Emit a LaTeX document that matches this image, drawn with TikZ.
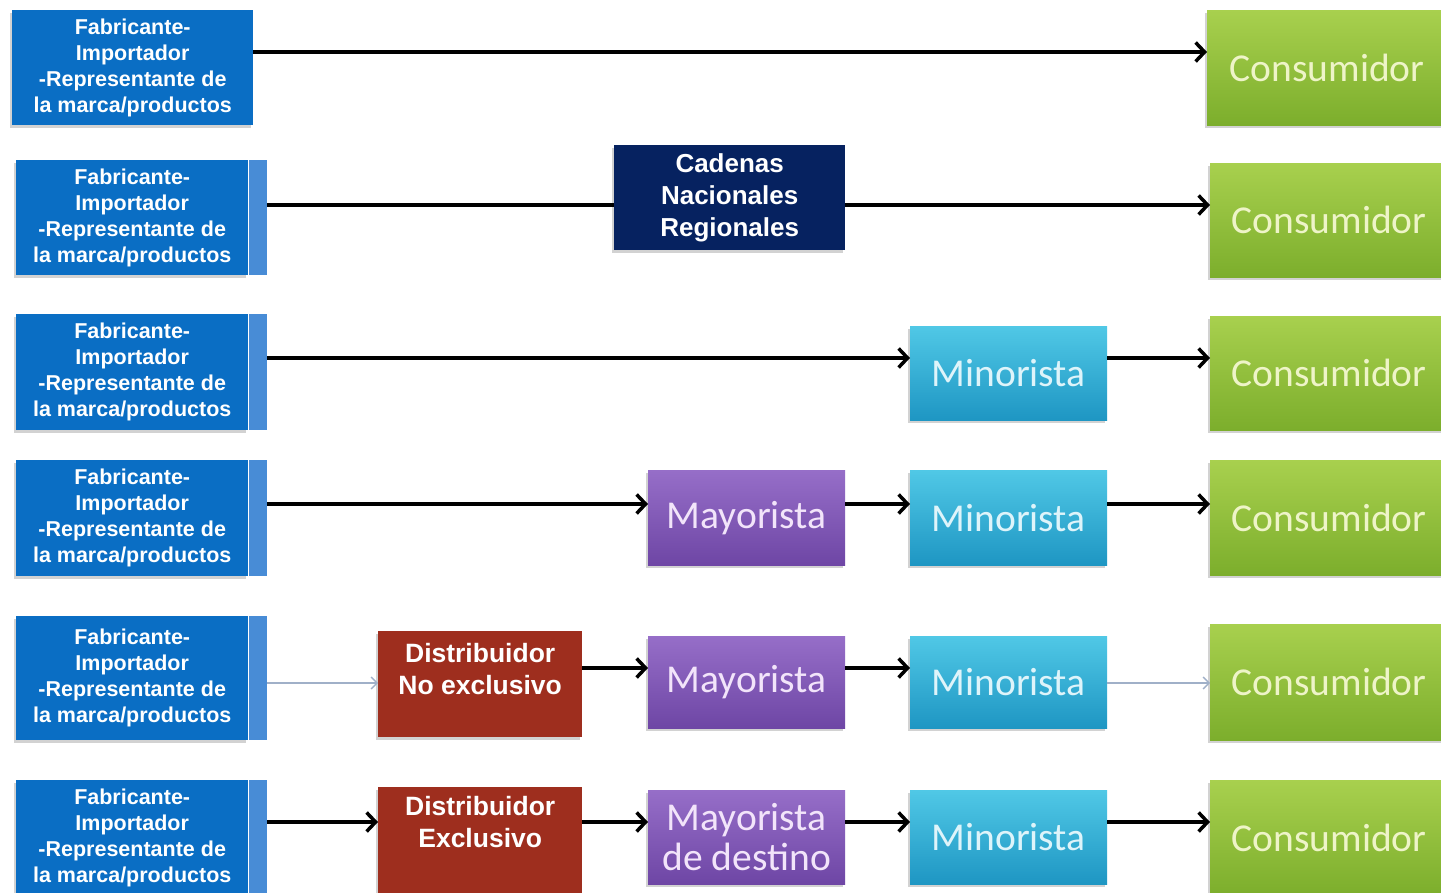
\documentclass[tikz,border=0pt]{standalone}
\usepackage{fontspec}
\setmainfont{Liberation Sans}
\newfontfamily\calfont{Carlito}
\usetikzlibrary{arrows.meta,shadows}

\definecolor{fabblue}{RGB}{10,110,196}
\definecolor{fabedge}{RGB}{72,140,214}
\definecolor{cadnavy}{RGB}{6,34,96}
\definecolor{distred}{RGB}{158,46,30}
\definecolor{constop}{RGB}{168,208,78}
\definecolor{consbot}{RGB}{124,174,44}
\definecolor{constext}{RGB}{238,244,200}
\definecolor{mintop}{RGB}{80,200,230}
\definecolor{minbot}{RGB}{30,150,195}
\definecolor{mintext}{RGB}{222,244,250}
\definecolor{maytop}{RGB}{150,110,200}
\definecolor{maybot}{RGB}{110,70,165}
\definecolor{maytext}{RGB}{242,228,250}
\definecolor{faint}{RGB}{160,176,200}

\tikzset{
  box/.style={anchor=north west, inner sep=0pt, align=center,
    drop shadow={shadow xshift=-2pt, shadow yshift=-3pt, opacity=0.35}},
  fab/.style={box, fill=fabblue, text=white,
    font=\bfseries\fontsize{21.5}{26}\selectfont},
  fabedge/.style={anchor=north west, inner sep=0pt, fill=fabedge,
    minimum width=18pt},
  cadbox/.style={box, fill=cadnavy, text=white,
    font=\bfseries\fontsize{26}{32}\selectfont},
  distbox/.style={box, fill=distred, text=white, text depth=30pt,
    font=\bfseries\fontsize{26.5}{32}\selectfont},
  soft/.style={box, font=\calfont\fontsize{39.5}{40}\selectfont},
  cons/.style={soft, top color=constop, bottom color=consbot, text=constext},
  mino/.style={soft, top color=mintop, bottom color=minbot, text=mintext},
  mayo/.style={soft, top color=maytop, bottom color=maybot, text=maytext},
  flow/.style={line width=3.5pt, -{Straight Barb[length=9pt,width=19pt]}},
  plain/.style={line width=3.5pt},
  thin flow/.style={faint, line width=1.3pt, -{Straight Barb[length=6pt,width=12pt]}}
}

\newcommand{\fabtext}{Fabricante-\\Importador\\-Representante de\\la marca/productos}

\begin{document}
\begin{tikzpicture}[x=1pt,y=-1pt]
\useasboundingbox[fill=white] (0,0) rectangle (1441,893);

% Row 1
\node[fab, minimum width=241pt, minimum height=115pt] (fab1) at (12,10) {\fabtext};
\node[cons, minimum width=240pt, minimum height=115pt] (cons1) at (1207,10) {Consumidor};

% Row 2
\node[fab, minimum width=232pt, minimum height=115pt] (fab2) at (16,160) {\fabtext};
\node[fabedge, minimum height=115pt] (edge2) at (fab2.north east) {};
\node[cadbox, minimum width=231pt, minimum height=105pt] (cad2) at (614,145) {Cadenas\\Nacionales\\Regionales};
\node[cons, minimum width=238pt, minimum height=114pt] (cons2) at (1210,163) {Consumidor};

% Row 3
\node[fab, minimum width=232pt, minimum height=116pt] (fab3) at (16,314) {\fabtext};
\node[fabedge, minimum height=116pt] (edge3) at (fab3.north east) {};
\node[mino, minimum width=197pt, minimum height=94pt] (min3) at (910,326) {Minorista};
\node[cons, minimum width=238pt, minimum height=114pt] (cons3) at (1210,316) {Consumidor};

% Row 4
\node[fab, minimum width=232pt, minimum height=116pt] (fab4) at (16,460) {\fabtext};
\node[fabedge, minimum height=116pt] (edge4) at (fab4.north east) {};
\node[mayo, minimum width=197pt, minimum height=95pt] (may4) at (648,470) {Mayorista};
\node[mino, minimum width=197pt, minimum height=95pt] (min4) at (910,470) {Minorista};
\node[cons, minimum width=238pt, minimum height=115pt] (cons4) at (1210,460) {Consumidor};

% Row 5
\node[fab, minimum width=232pt, minimum height=124pt] (fab5) at (16,616) {\fabtext};
\node[fabedge, minimum height=124pt] (edge5) at (fab5.north east) {};
\node[distbox, minimum width=204pt, minimum height=106pt] (dist5) at (378,631) {Distribuidor\\No exclusivo};
\node[mayo, minimum width=197pt, minimum height=92pt] (may5) at (648,636) {Mayorista};
\node[mino, minimum width=197pt, minimum height=92pt] (min5) at (910,636) {Minorista};
\node[cons, minimum width=238pt, minimum height=116pt] (cons5) at (1210,624) {Consumidor};

% Row 6
\node[fab, minimum width=232pt, minimum height=115pt] (fab6) at (16,780) {\fabtext};
\node[fabedge, minimum height=115pt] (edge6) at (fab6.north east) {};
\node[distbox, text depth=38pt, minimum width=204pt, minimum height=108pt] (dist6) at (378,787) {Distribuidor\\Exclusivo};
\node[mayo, minimum width=197pt, minimum height=94pt] (may6) at (648,790) {Mayorista\\de destino};
\node[mino, minimum width=197pt, minimum height=94pt] (min6) at (910,790) {Minorista};
\node[cons, minimum width=238pt, minimum height=115pt] (cons6) at (1210,780) {Consumidor};

% Heights of the connectors
\coordinate (r1) at (0,52);
\coordinate (r2) at (0,205);
\coordinate (r3) at (0,358);
\coordinate (r4) at (0,504);
\coordinate (r5) at (0,668);
\coordinate (r5b) at (0,683);
\coordinate (r6) at (0,822);

% Connectors
\draw[flow] (fab1.east |- r1) -- (cons1.west |- r1);

\draw[plain] (edge2.east |- r2) -- (cad2.west |- r2);
\draw[flow] (cad2.east |- r2) -- (cons2.west |- r2);

\draw[flow] (edge3.east |- r3) -- (min3.west |- r3);
\draw[flow] (min3.east |- r3) -- (cons3.west |- r3);

\draw[flow] (edge4.east |- r4) -- (may4.west |- r4);
\draw[flow] (may4.east |- r4) -- (min4.west |- r4);
\draw[flow] (min4.east |- r4) -- (cons4.west |- r4);

\draw[thin flow] (edge5.east |- r5b) -- (dist5.west |- r5b);
\draw[flow] (dist5.east |- r5) -- (may5.west |- r5);
\draw[flow] (may5.east |- r5) -- (min5.west |- r5);
\draw[thin flow] (min5.east |- r5b) -- (cons5.west |- r5b);

\draw[flow] (edge6.east |- r6) -- (dist6.west |- r6);
\draw[flow] (dist6.east |- r6) -- (may6.west |- r6);
\draw[flow] (may6.east |- r6) -- (min6.west |- r6);
\draw[flow] (min6.east |- r6) -- (cons6.west |- r6);
\end{tikzpicture}
\end{document}
